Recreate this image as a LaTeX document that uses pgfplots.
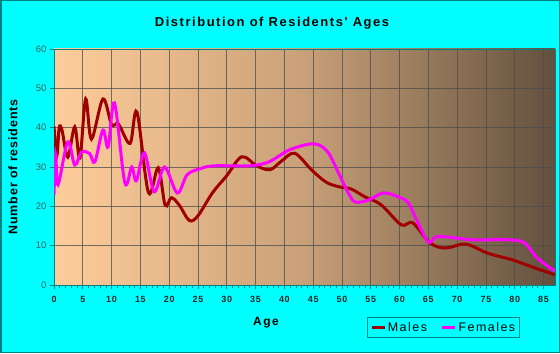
\documentclass[border=0pt]{standalone}
\usepackage{fontspec}
\setmainfont{Liberation Sans}
\newfontfamily\spaced[LetterSpace=12]{Liberation Sans}
\newfontfamily\spacedy[LetterSpace=7]{Liberation Sans}
\newfontfamily\spacedb[LetterSpace=8]{Liberation Sans}
\usepackage{pgfplots}
\pgfplotsset{compat=1.18}
\definecolor{bgcyan}{RGB}{0,255,255}
\definecolor{frameteal}{RGB}{0,128,128}
\definecolor{peach}{RGB}{255,205,155}
\definecolor{midbrown}{RGB}{200,160,120}
\definecolor{darkbrown}{RGB}{98,80,62}
\definecolor{males}{RGB}{160,0,0}
\definecolor{females}{RGB}{255,0,255}
\definecolor{ytick}{RGB}{60,95,95}
\begin{document}
\begin{tikzpicture}[x=1bp,y=1bp]
\fill[bgcyan] (0,0) rectangle (560,353);
\draw[frameteal,line width=1.5bp] (0.75,0.75) rectangle (559.25,352.25);
\node[font=\fontsize{13}{15}\selectfont\bfseries\spaced] at (272,330) {Distribution of Residents' Ages};
\begin{axis}[
  at={(54bp,68bp)}, anchor=south west,
  scale only axis, width=501bp, height=236bp,
  xmin=0, xmax=87, ymin=0, ymax=60,
  xtick={0,5,...,85}, ytick={0,10,...,60},
  minor x tick num=4,
  grid=major,
  major grid style={draw=black!70, opacity=0.75, line width=0.6bp},
  axis background/.style={left color=peach, right color=darkbrown, middle color=midbrown},
  axis line style={draw=frameteal, line width=0.8bp},
  tick style={draw=frameteal, line width=0.6bp},
  tick align=outside,
  major tick length=4bp, minor tick length=3bp,
  xtick pos=left, ytick pos=left,
  /pgf/number format/assume math mode=true,
  xticklabel style={font=\fontsize{9}{10}\selectfont\bfseries\spacedb, text=black!85, yshift=-4bp},
  yticklabel style={font=\fontsize{9.5}{10}\selectfont, text=ytick},
  xlabel={Age}, ylabel={Number of residents},
  xlabel style={at={(axis description cs:0.423,-0.161)}, anchor=center, font=\fontsize{12}{14}\selectfont\bfseries\spaced},
  ylabel style={at={(axis description cs:-0.082,0.5)}, anchor=center, rotate=0, font=\fontsize{12.5}{14}\selectfont\bfseries\spacedy},
  legend columns=2,
  legend style={at={(axis description cs:0.778,-0.18)}, anchor=center, draw=frameteal, fill=bgcyan, line width=0.8bp,
    font=\fontsize{12.5}{14}\selectfont\spaced, inner sep=2.5bp,
    /tikz/every even column/.append style={column sep=12bp}},
  legend image code/.code={\draw[#1, line width=2.5bp] (0bp,0bp) -- (13bp,0bp);},
]
\addplot[males, line width=3bp, smooth, tension=0.55] coordinates {
(0,40.3) (0.5,33) (0.9,40) (1.4,39.3) (2.4,32.5) (3.6,40.2) (4.5,32.3) (5.5,47.3) (6.5,37.1) (8.5,47.3) (10,40.8) (11.2,40.9) (13.2,36) (14.4,44) (16.4,23.5) (18.1,29.8) (19.3,20.3) (20.4,22.2) (21.8,20.2) (23.5,16.4) (25,17.6) (27.5,23.4) (30,27.8) (32.6,32.6) (35.2,30.3) (37.5,29.3) (39.5,31.5) (41.8,33.5) (44.7,29.3) (47.2,26.2) (49.4,25) (51.6,24.4) (54,22.4) (56.8,20.4) (60.3,15.3) (62.3,15.8) (65.3,10.7) (68,9.4) (71.5,10.4) (75.3,8.1) (79.6,6.4) (83,4.6) (87,2.6)
};
\addlegendentry{Males}
\addplot[females, line width=3bp, smooth, tension=0.55] coordinates {
(0,23) (0.3,33) (0.7,25.5) (2.4,36.4) (3.6,30.5) (4.8,33.8) (6.2,33.4) (7.1,31.3) (8.5,39.4) (9.4,35.1) (10.5,46.3) (12.3,26) (13.5,30) (14.3,26.5) (15.7,33.6) (17.4,23.7) (19.2,30) (21.4,23.4) (23.1,28) (25.2,29.5) (27.8,30.3) (33.9,30.3) (37.3,31.3) (40.8,34.3) (44.2,35.8) (46,35.6) (47.7,33.5) (49.4,28.5) (51.1,23.4) (52.3,21.1) (54.6,21.6) (57.2,23.4) (59.8,22.4) (61.5,20.9) (63.2,15.8) (65,10.9) (66.3,12.2) (68.4,12.2) (72.7,11.5) (78.8,11.5) (81.7,10.7) (83.9,6.9) (87,3.5)
};
\addlegendentry{Females}
\end{axis}
\end{tikzpicture}
\end{document}
